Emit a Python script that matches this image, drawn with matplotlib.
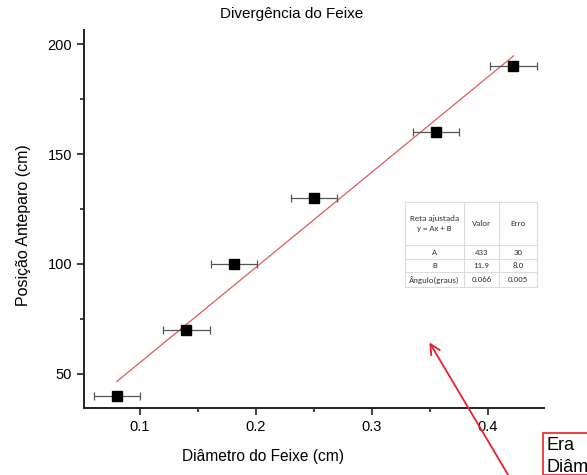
import matplotlib
matplotlib.use("Agg")
import matplotlib.pyplot as plt
from matplotlib.ticker import MultipleLocator, AutoMinorLocator
from matplotlib.patches import Rectangle, FancyArrowPatch

plt.rcParams["font.family"] = ["Liberation Sans", "DejaVu Sans"]

# beam diameter (cm) vs screen position (cm)
diametro = [0.080, 0.140, 0.181, 0.250, 0.355, 0.422]
erro_diametro = [0.02, 0.02, 0.02, 0.02, 0.02, 0.02]
posicao = [40, 70, 100, 130, 160, 190]

# linear fit y = A x + B
coef_A = 433
coef_B = 11.9

tabela_cabecalho = ["Reta ajustada\ny = Ax + B", "Valor", "Erro"]
tabela_linhas = [
    ["A", "433", "30"],
    ["B", "11.9", "8.0"],
    ["Ângulo(graus)", "0.066", "0.005"],
]

W, H = 587, 475
fig = plt.figure(figsize=(W / 100, H / 100), dpi=100)
ax = fig.add_axes([84 / W, 1 - 408 / H, 460 / W, 378 / H])

ax.errorbar(diametro, posicao, xerr=erro_diametro, fmt="s", color="black",
            ms=6.5, ecolor="#555555", elinewidth=0.9, capsize=3, capthick=0.9,
            zorder=3)

x_fit = [min(diametro), max(diametro)]
y_fit = [coef_A * x + coef_B for x in x_fit]
ax.plot(x_fit, y_fit, color="#e05a5a", lw=0.9, zorder=2)

ax.set_xlim(0.0517, 0.4483)
ax.set_ylim(34.5, 206.4)
ax.xaxis.set_major_locator(MultipleLocator(0.1))
ax.yaxis.set_major_locator(MultipleLocator(50))
ax.xaxis.set_minor_locator(AutoMinorLocator(2))
ax.yaxis.set_minor_locator(AutoMinorLocator(2))
ax.tick_params(which="major", direction="out", length=5, width=1.2,
               labelsize=10.5, color="#222222")
ax.tick_params(which="minor", direction="out", length=3, width=1.2,
               color="#222222")
for side in ("top", "right"):
    ax.spines[side].set_visible(False)
for side in ("left", "bottom"):
    ax.spines[side].set_linewidth(1.4)
    ax.spines[side].set_color("#222222")

fig.text(292 / W, 1 - 14 / H, "Divergência do Feixe", ha="center",
         va="center", fontsize=11)
fig.text(263 / W, 1 - 456 / H, "Diâmetro do Feixe (cm)", ha="center",
         va="center", fontsize=11.2)
fig.text(24 / W, 1 - 225 / H, "Posição Anteparo (cm)", ha="center",
         va="center", rotation=90, fontsize=11.5)

# fit results table
col_x = [405, 464, 499, 537]
row_y = [202, 245, 259, 272, 287]
tab_fs = 6.4
for x in col_x:
    fig.add_artist(plt.Line2D([x / W, x / W], [1 - row_y[0] / H, 1 - row_y[-1] / H],
                              color="#dddddd", lw=0.8))
for y in row_y:
    fig.add_artist(plt.Line2D([col_x[0] / W, col_x[-1] / W], [1 - y / H, 1 - y / H],
                              color="#dddddd", lw=0.8))
linhas = [tabela_cabecalho] + tabela_linhas
for i, linha in enumerate(linhas):
    yc = (row_y[i] + row_y[i + 1]) / 2
    for j, txt in enumerate(linha):
        xc = (col_x[j] + col_x[j + 1]) / 2
        fig.text(xc / W, 1 - yc / H, txt, ha="center", va="center",
                 fontsize=tab_fs, color="#333333", linespacing=1.6,
                 family=["Carlito", "Liberation Sans", "DejaVu Sans"])

# annotation arrow and box
fig.add_artist(FancyArrowPatch((510 / W, 1 - 478 / H), (428 / W, 1 - 340 / H),
                               transform=fig.transFigure, arrowstyle="->",
                               mutation_scale=18, color="#e8202a", lw=1.3))
fig.add_artist(Rectangle((543 / W, 0), 0.2, 1 - 433 / H, transform=fig.transFigure,
                         facecolor="white", edgecolor="#e8202a", lw=1.2))
fig.text(546 / W, 1 - 446 / H, "Era", ha="left", va="center", fontsize=13)
fig.text(546 / W, 1 - 467 / H, "Diâm", ha="left", va="center", fontsize=13)

fig.savefig("out.png", dpi=100)
